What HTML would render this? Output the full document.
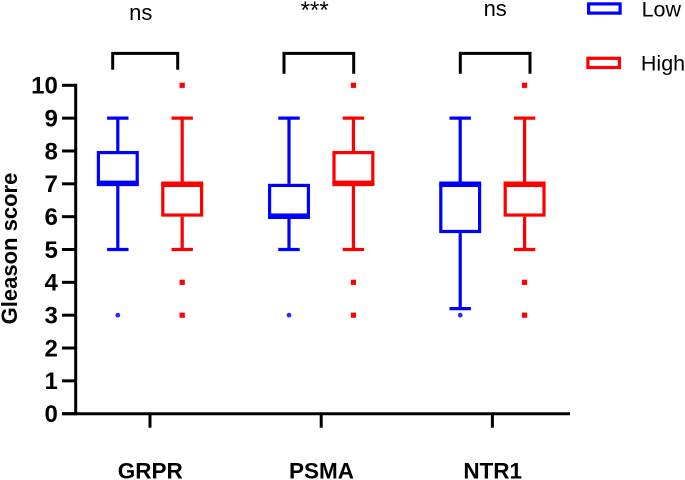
<!DOCTYPE html>
<html>
<head>
<meta charset="utf-8">
<style>
html,body{margin:0;padding:0;background:#fff;width:685px;height:480px;overflow:hidden}
svg{display:block}
text{font-family:"Liberation Sans",Arial,sans-serif;fill:#000}
</style>
</head>
<body>
<svg id="chart" width="685" height="480" viewBox="0 0 685 480" xmlns="http://www.w3.org/2000/svg"></svg>
<script>
const categories = ['GRPR', 'PSMA', 'NTR1'];
const significance = ['ns', '***', 'ns'];
const yTicks = [0, 1, 2, 3, 4, 5, 6, 7, 8, 9, 10];
const seriesNames = ['Low', 'High'];
const seriesColors = ['#0000ff', '#ff0000'];
const lowMin = [5, 5, 3.2];
const lowQ1 = [7, 6, 5.5];
const lowMedian = [7, 6, 7];
const lowQ3 = [8, 7, 7];
const lowMax = [9, 9, 9];
const lowOutliers = [[3], [3], [3]];
const highMin = [5, 5, 5];
const highQ1 = [6, 7, 6];
const highMedian = [7, 7, 7];
const highQ3 = [7, 8, 7];
const highMax = [9, 9, 9];
const highOutliers = [[10, 4, 3], [10, 4, 3], [10, 4, 3]];

const NS = 'http://www.w3.org/2000/svg';
const svg = document.getElementById('chart');
function yScale(v) { return 413.7 - 32.84 * v; }
function groupCenter(i) { return 150 + 171.2 * i; }
function boxCenter(i, s) { return groupCenter(i) + (s === 0 ? -32.2 : 32.2); }
function make(tag, attrs, parent) {
  const el = document.createElementNS(NS, tag);
  for (const k in attrs) el.setAttribute(k, attrs[k]);
  (parent || svg).appendChild(el);
  return el;
}
function segment(x1, y1, x2, y2, color, width, parent) {
  return make('line', { x1: x1, y1: y1, x2: x2, y2: y2, stroke: color, 'stroke-width': width }, parent);
}

// Axes
const yAxis = segment(75.7, yScale(10) - 1.5, 75.7, yScale(0) + 1.5, '#000', 3);


const xAxis = segment(62, yScale(0), 570, yScale(0), '#000', 3);



yTicks.forEach(function (t) {
  const tick = segment(62, yScale(t), 75, yScale(t), '#000', 3);
  
  
  const label = make('text', { x: 57.8, y: yScale(t) + 8.3, 'text-anchor': 'end', 'font-size': 24, 'font-weight': 'bold' });
  label.textContent = t;
  
  
});

const yTitle = make('text', { transform: 'translate(17,248.5) rotate(-90)', 'text-anchor': 'middle', 'font-size': 22, 'font-weight': 'bold' });
yTitle.textContent = 'Gleason score';



const bracketLeft = [112.7, 284, 460.3];
const bracketRight = [177.7, 353.7, 530];
const bracketBottoms = [69.7, 73.7, 73.7];
const sigCenters = [140.8, 314.7, 495.2];
const sigBaselines = [20, 18, 16];
const sigSizes = [22, 24, 22];

categories.forEach(function (c, i) {
  const tick = segment(groupCenter(i), yScale(0), groupCenter(i), 427.7, '#000', 3);
  
  
  const label = make('text', { x: groupCenter(i) + 0.3, y: 478.5, 'text-anchor': 'middle', 'font-size': 22.5, 'font-weight': 'bold' });
  label.textContent = c;
  
  

  const bracket = make('path', { d: 'M' + bracketLeft[i] + ' ' + bracketBottoms[i] + 'V53.4H' + bracketRight[i] + 'V' + bracketBottoms[i], fill: 'none', stroke: '#000', 'stroke-width': 3 });
  
  
  const sig = make('text', { x: sigCenters[i], y: sigBaselines[i], 'text-anchor': 'middle', 'font-size': sigSizes[i] });
  sig.textContent = significance[i];
  
  
});

function drawBox(i, s, min, q1, med, q3, max, outliers) {
  const color = seriesColors[s];
  const cx = boxCenter(i, s);
  const g = make('g', {});
  
  
  const sw = 3.2;
  segment(cx, yScale(max), cx, yScale(q3), color, sw, g);
  segment(cx, yScale(q1), cx, yScale(min), color, sw, g);
  segment(cx - 10.7, yScale(max), cx + 10.7, yScale(max), color, sw, g);
  segment(cx - 10.7, yScale(min), cx + 10.7, yScale(min), color, sw, g);
  make('rect', { x: cx - 19.4, y: yScale(q3) + 1.6, width: 38.8, height: yScale(q1) - yScale(q3) - 3.2, fill: 'none', stroke: color, 'stroke-width': sw }, g);
  segment(cx - 21, yScale(med), cx + 21, yScale(med), color, 4.6, g);
  outliers.forEach(function (v) {
    if (s === 0) {
      make('circle', { cx: cx, cy: yScale(v), r: 2.4, fill: '#2a2aff' }, g);
    } else {
      make('rect', { x: cx - 2.6, y: yScale(v) - 2.6, width: 5.2, height: 5.2, fill: color }, g);
    }
  });
}
categories.forEach(function (c, i) {
  drawBox(i, 0, lowMin[i], lowQ1[i], lowMedian[i], lowQ3[i], lowMax[i], lowOutliers[i]);
  drawBox(i, 1, highMin[i], highQ1[i], highMedian[i], highQ3[i], highMax[i], highOutliers[i]);
});

// Legend
const legendBoxY = [3.9, 58.3];
const legendTextY = [16.5, 70.5];
seriesNames.forEach(function (n, s) {
  const swatch = make('rect', { x: 588.6 - s * 0.7, y: legendBoxY[s], width: 31.5, height: 9.2, fill: 'none', stroke: seriesColors[s], 'stroke-width': 3.2 });
  
  
  const label = make('text', { x: 641.6 - s * 0.7, y: legendTextY[s], 'font-size': 21.5 });
  label.textContent = n;
  
  
});
</script>
</body>
</html>
